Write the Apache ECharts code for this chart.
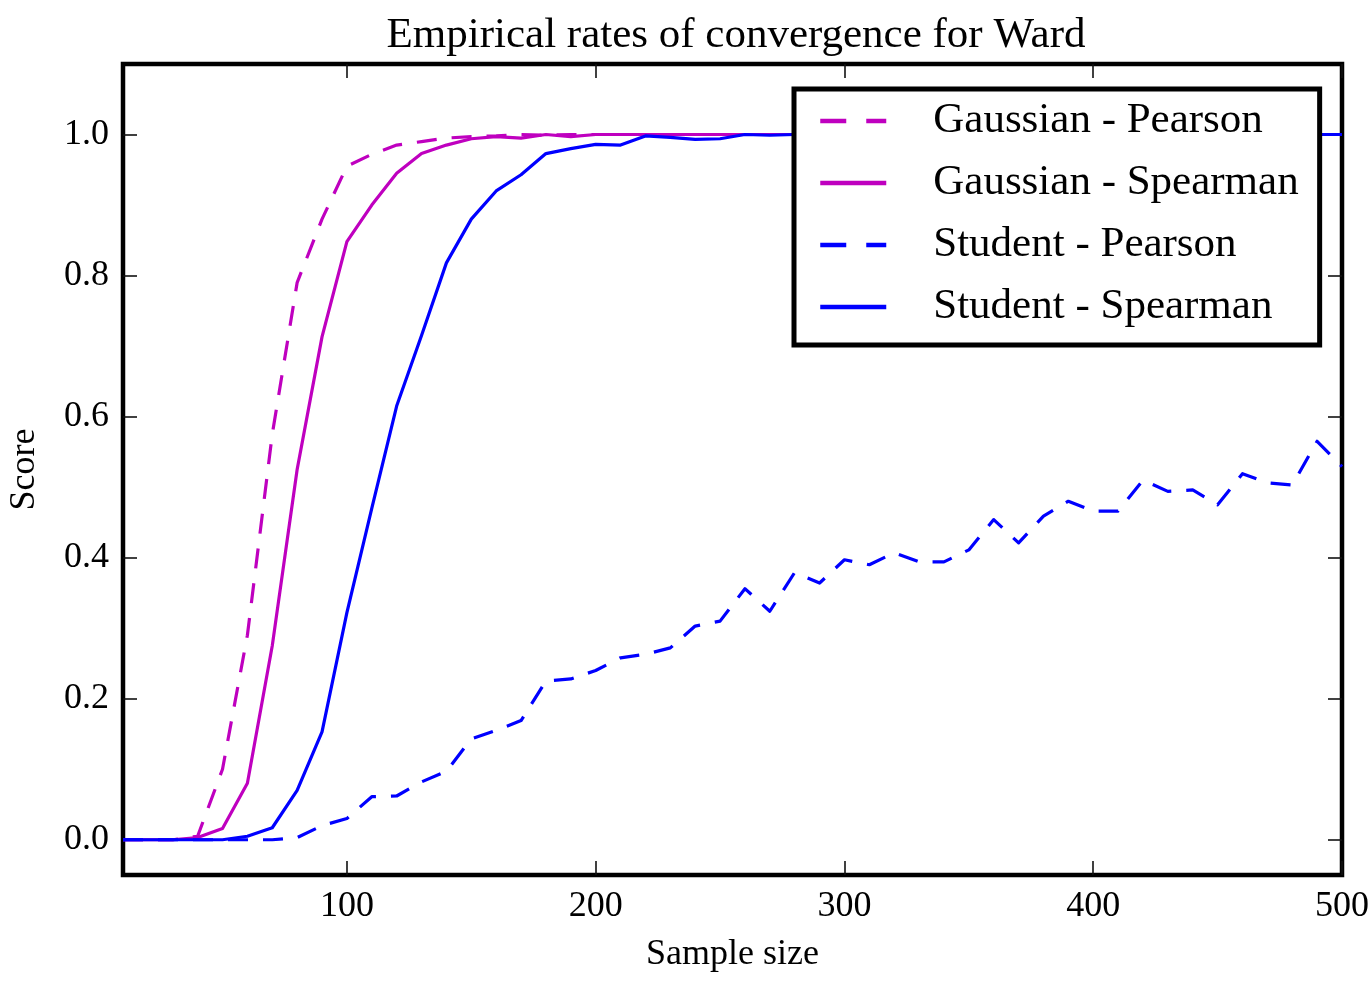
<!DOCTYPE html>
<html>
<head>
<meta charset="utf-8">
<script src="https://cdn.jsdelivr.net/npm/echarts@6/dist/echarts.min.js"></script>
<style>
html,body{margin:0;padding:0;background:#fff;}
#chart{width:1371px;height:986px;}
</style>
</head>
<body>
<div id="chart"></div>
<script>
const sampleSizes = [10,20,30,40,50,60,70,80,90,100,110,120,130,140,150,160,170,180,190,200,
  210,220,230,240,250,260,270,280,290,300,310,320,330,340,350,360,370,380,390,400,
  410,420,430,440,450,460,470,480,490,500];

const gaussianPearson = [0,0,0,0.005,0.10,0.29,0.575,0.79,0.88,0.955,0.972,0.985,0.99,0.995,0.997,0.998,1.0,0.999,1.0,1.0,
  1.0,1.0,1.0,1.0,1.0,1.0,1.0,1.0,1.0,1.0,1.0,1.0,1.0,1.0,1.0,1.0,1.0,1.0,1.0,1.0,
  1.0,1.0,1.0,1.0,1.0,1.0,1.0,1.0,1.0,1.0];

const gaussianSpearman = [0,0,0,0.003,0.016,0.08,0.275,0.525,0.713,0.848,0.90,0.945,0.973,0.985,0.994,0.997,0.995,1.0,0.997,1.0,
  1.0,1.0,1.0,1.0,1.0,1.0,1.0,1.0,1.0,1.0,1.0,1.0,1.0,1.0,1.0,1.0,1.0,1.0,1.0,1.0,
  1.0,1.0,1.0,1.0,1.0,1.0,1.0,1.0,1.0,1.0];

const studentPearson = [0,0,0,0,0,0,0,0.003,0.02,0.03,0.061,0.062,0.082,0.097,0.143,0.155,0.169,0.225,0.228,0.24,
  0.258,0.263,0.272,0.303,0.31,0.356,0.324,0.379,0.364,0.397,0.39,0.407,0.394,0.394,0.411,0.454,0.421,0.459,0.48,0.466,
  0.466,0.51,0.494,0.496,0.475,0.519,0.506,0.503,0.565,0.529];

const studentSpearman = [0,0,0,0,0,0.005,0.017,0.07,0.153,0.322,0.47,0.615,0.715,0.818,0.88,0.92,0.943,0.973,0.98,0.986,
  0.985,0.998,0.996,0.993,0.994,1.0,0.999,1.0,1.0,1.0,1.0,1.0,1.0,1.0,1.0,1.0,1.0,1.0,1.0,1.0,
  1.0,1.0,1.0,1.0,1.0,1.0,1.0,1.0,1.0,1.0];

const xTicks = [100,200,300,400,500];
const yTicks = [0,0.2,0.4,0.6,0.8,1.0];

const seriesNames = ['Gaussian - Pearson','Gaussian - Spearman','Student - Pearson','Student - Spearman'];
const seriesValues = [gaussianPearson, gaussianSpearman, studentPearson, studentSpearman];
const seriesColors = ['#bf00bf','#bf00bf','#0000ff','#0000ff'];
const seriesDashed = [true,false,true,false];

const FONT = "'Liberation Serif','DejaVu Serif',serif";
const DASH = [20,15];

const chart = echarts.init(document.getElementById('chart'), null, {renderer:'canvas'});

function pairs(vals){ return sampleSizes.map((x,i)=>[x, vals[i]]); }

const tickStyle = {color:'#111', width:1.6};

const option = {
  animation:false,
  backgroundColor:'#fff',
  title:{
    text:'Empirical rates of convergence for Ward',
    left:731, top:9, textAlign:'center',
    textStyle:{fontFamily:FONT, fontSize:43, fontWeight:'normal', color:'#000'}
  },
  grid:{
    left:123, right:29, top:64, bottom:111,
    show:true, borderColor:'#000', borderWidth:4.5, backgroundColor:'transparent',
    outerBoundsMode:'none'
  },
  legend:{
    orient:'vertical',
    left:794, top:89,
    padding:[8,21,14,24],
    backgroundColor:'#fff',
    borderColor:'#000', borderWidth:5, borderRadius:0,
    itemWidth:66, itemHeight:14, itemGap:14,
    textStyle:{fontFamily:FONT, fontSize:43, color:'#000', lineHeight:48, padding:[0,0,0,42]},
    itemStyle:{opacity:0},
    lineStyle:{width:4.5},
    data: seriesNames.map((n,i)=>({name:n, itemStyle:{opacity:0},
      lineStyle:{width:4.5, type: seriesDashed[i] ? [26,20] : 'solid', cap:'butt'}}))
  },
  xAxis:[{
    type:'value', min:10, max:500, position:'bottom',
    name:'Sample size', nameLocation:'middle', nameGap:62,
    nameTextStyle:{fontFamily:FONT, fontSize:36, color:'#000'},
    axisLine:{show:false, onZero:false},
    axisTick:{show:true, inside:true, length:14, lineStyle:tickStyle, customValues:xTicks},
    axisLabel:{show:true, customValues:xTicks, margin:14, fontFamily:FONT, fontSize:36, color:'#000'},
    splitLine:{show:false}
  },{
    type:'value', min:10, max:500, position:'top',
    axisLine:{show:false, onZero:false},
    axisTick:{show:true, inside:true, length:14, lineStyle:tickStyle, customValues:xTicks},
    axisLabel:{show:false},
    splitLine:{show:false}
  }],
  yAxis:[{
    type:'value', min:-0.05, max:1.1, position:'left',
    name:'Score', nameLocation:'middle', nameGap:80, nameRotate:90,
    nameTextStyle:{fontFamily:FONT, fontSize:36, color:'#000'},
    axisLine:{show:false, onZero:false},
    axisTick:{show:true, inside:true, length:14, lineStyle:tickStyle, customValues:yTicks},
    axisLabel:{show:true, customValues:yTicks, margin:14, fontFamily:FONT, fontSize:36, color:'#000',
      formatter:(v)=>Number(v).toFixed(1)},
    splitLine:{show:false}
  },{
    type:'value', min:-0.05, max:1.1, position:'right',
    axisLine:{show:false, onZero:false},
    axisTick:{show:true, inside:true, length:14, lineStyle:tickStyle, customValues:yTicks},
    axisLabel:{show:false},
    splitLine:{show:false}
  }],
  series: seriesNames.map((n,i)=>({
    name:n, type:'line', xAxisIndex:0, yAxisIndex:0,
    data:pairs(seriesValues[i]),
    symbol:'none', showSymbol:false, smooth:false,
    color:seriesColors[i],
    lineStyle:{color:seriesColors[i], width:3.2, type: seriesDashed[i] ? DASH : 'solid', cap:'butt', join:'round'},
    emphasis:{disabled:true}
  }))
};
chart.setOption(option);
</script>
</body>
</html>
